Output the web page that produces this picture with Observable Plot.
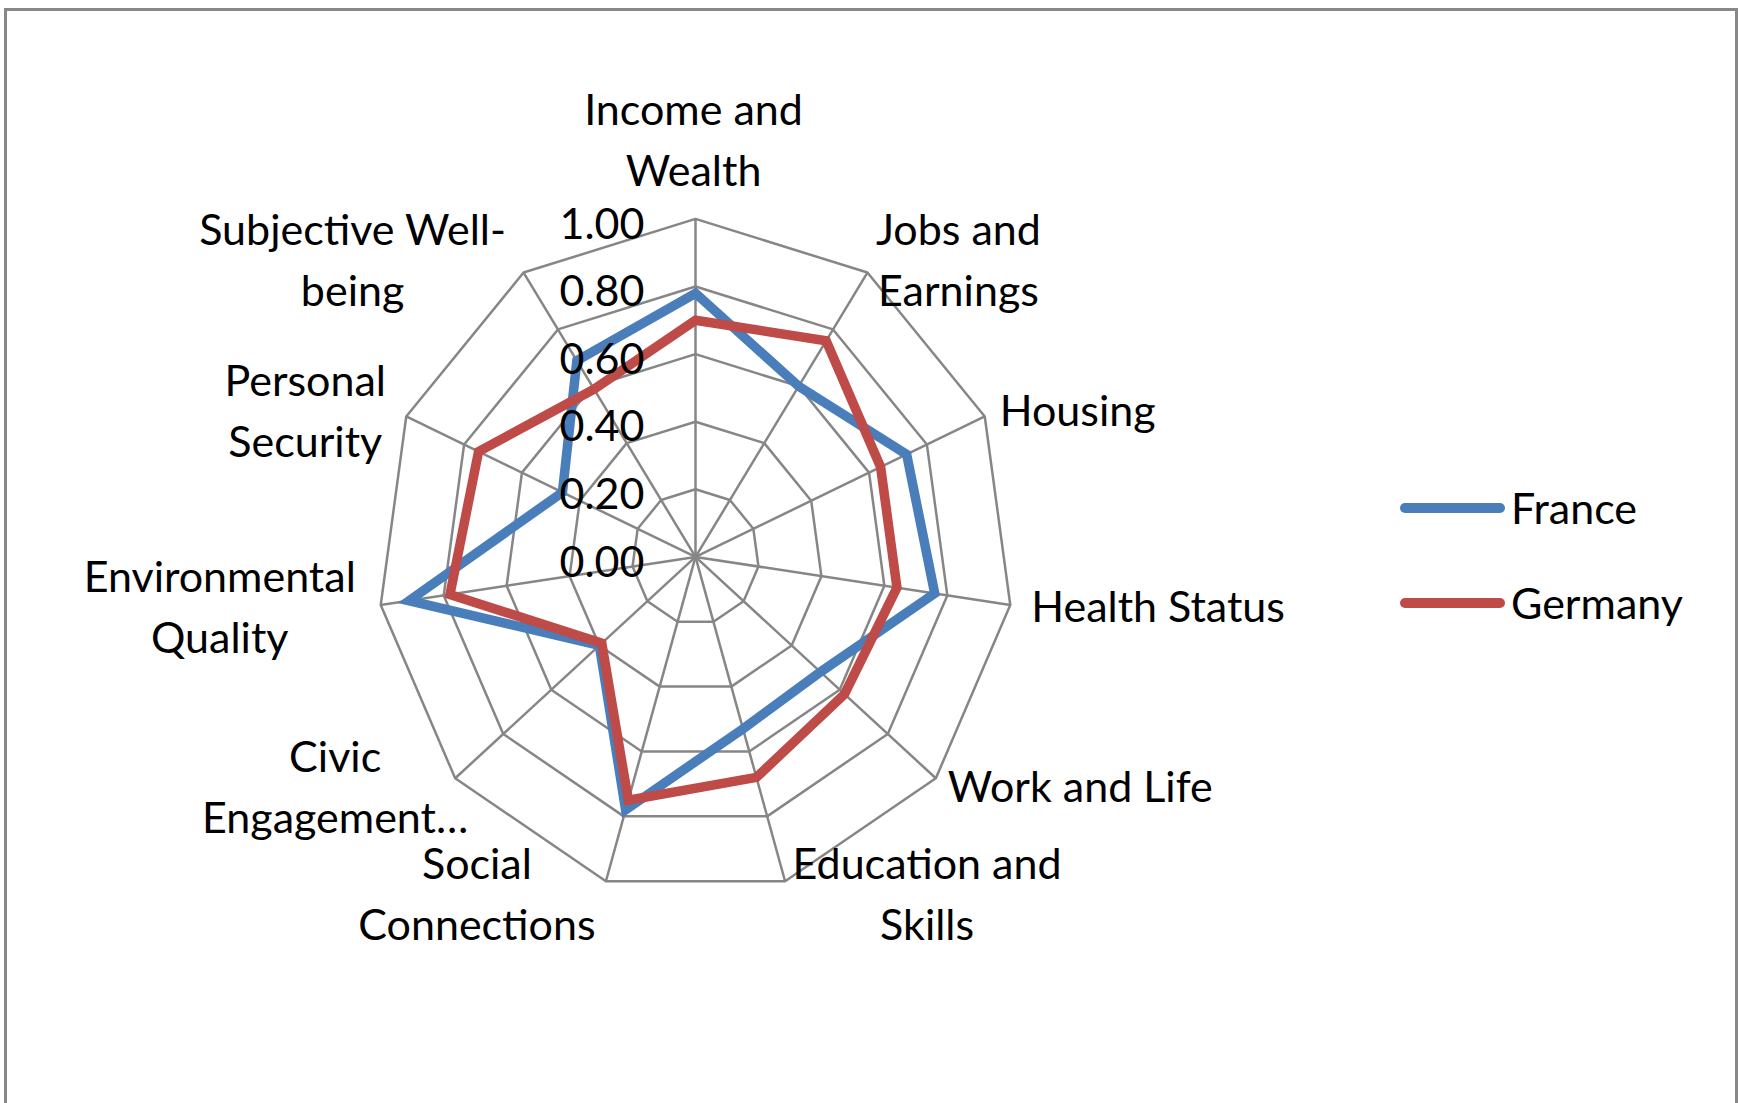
<!DOCTYPE html>
<html>
<head>
<meta charset="utf-8">
<script src="https://cdn.jsdelivr.net/npm/d3@7"></script>
<script src="https://cdn.jsdelivr.net/npm/@observablehq/plot@0.6"></script>
<style>
  html, body { margin: 0; padding: 0; background: #fff; }
  #wrap { position: relative; width: 1738px; height: 1103px; overflow: hidden; font-family: Lato, "Liberation Sans", sans-serif; }
  #frame { position: absolute; left: 4px; top: 8px; width: 1734px; height: 1300px; border: 3px solid #888; box-sizing: border-box; pointer-events: none; }
  #chart { position: absolute; left: 0; top: 0; }
  .sw { position: absolute; left: 1400px; width: 105px; height: 10px; border-radius: 5px; }
  .lt { position: absolute; left: 1511px; font-size: 43px; line-height: 43px; color: #000; white-space: nowrap; }
</style>
</head>
<body>
<div id="wrap">
  <div id="chart"></div>
  <div id="frame"></div>
  <div id="legend"></div>
</div>
<script>
// ---- data ----
const categories = [
  "Income and Wealth", "Jobs and Earnings", "Housing", "Health Status",
  "Work and Life", "Education and Skills", "Social Connections",
  "Civic Engagement…", "Environmental Quality", "Personal Security",
  "Subjective Well-being"
];
const labelLines = [
  ["Income and", "Wealth"], ["Jobs and", "Earnings"], ["Housing"], ["Health Status"],
  ["Work and Life"], ["Education and", "Skills"], ["Social", "Connections"],
  ["Civic", "Engagement…"], ["Environmental", "Quality"], ["Personal", "Security"],
  ["Subjective Well-", "being"]
];
const france  = [0.78, 0.60, 0.73, 0.76, 0.52, 0.53, 0.78, 0.40, 0.91, 0.46, 0.69];
const germany = [0.70, 0.76, 0.64, 0.64, 0.62, 0.68, 0.75, 0.39, 0.78, 0.75, 0.59];
const seriesNames = ["France", "Germany"];
const seriesColors = ["#4A7EBB", "#BE4B48"];
const ticks = [0, 0.2, 0.4, 0.6, 0.8, 1.0];
const tickLabels = ["0.00", "0.20", "0.40", "0.60", "0.80", "1.00"];

// ---- layout (label offsets from the 1.00 vertex of each axis, px) ----
const labelLayout = [
  {anchor: "middle", dx: -2,   dy: -83},
  {anchor: "middle", dx: 91,   dy: -17},
  {anchor: "start",  dx: 15,   dy: -10},
  {anchor: "start",  dx: 21,   dy: -3},
  {anchor: "start",  dx: 12,   dy: 4},
  {anchor: "middle", dx: 142,  dy: 9},
  {anchor: "middle", dx: -129, dy: 9},
  {anchor: "middle", dx: -120, dy: 5},
  {anchor: "middle", dx: -161, dy: -2},
  {anchor: "middle", dx: -101, dy: -10},
  {anchor: "middle", dx: -171, dy: -17}
];

const N = categories.length;
const ang = i => 2 * Math.PI * i / N;
const px = (v, i) => v * Math.sin(ang(i));
const py = (v, i) => v * Math.cos(ang(i));

const ringData = ticks.filter(t => t > 0).flatMap(t =>
  categories.map((c, i) => ({t, x: px(t, i), y: py(t, i)})));
const spokeData = categories.map((c, i) => ({x1: 0, y1: 0, x2: px(1, i), y2: py(1, i)}));
const seriesData = [[seriesNames[0], france], [seriesNames[1], germany]].flatMap(([s, vals]) =>
  vals.map((v, i) => ({series: s, cat: categories[i], v, x: px(v, i), y: py(v, i)})));
const tickData = ticks.map((t, i) => ({t, label: tickLabels[i]}));

const grid = "#868686";
const FS = 43;

const marks = [
  Plot.line(ringData, {x: "x", y: "y", z: "t", curve: "linear-closed", stroke: grid, strokeWidth: 2.5}),
  Plot.link(spokeData, {x1: "x1", y1: "y1", x2: "x2", y2: "y2", stroke: grid, strokeWidth: 2.5}),
  Plot.line(seriesData, {x: "x", y: "y", z: "series", stroke: "series", curve: "linear-closed",
    strokeWidth: 9.5, strokeLinejoin: "miter", strokeMiterlimit: 10}),
  Plot.text(tickData, {x: () => 0, y: "t", text: "label", textAnchor: "end", lineAnchor: "middle",
    dx: -51, dy: 6, fontSize: FS, fill: "#000"}),
  ...categories.map((c, i) => Plot.text(
    [{x: px(1, i), y: py(1, i), text: labelLines[i].join("\n")}],
    {x: "x", y: "y", text: "text", textAnchor: labelLayout[i].anchor, lineAnchor: "middle",
     dx: labelLayout[i].dx, dy: labelLayout[i].dy, fontSize: FS, lineHeight: 1.42, fill: "#000"}))
];

const chart = Plot.plot({
  width: 1738,
  height: 1103,
  margin: 0,
  style: {fontFamily: 'Lato, "Liberation Sans", sans-serif', fontSize: FS + "px", background: "transparent"},
  x: {domain: [-1, 1], range: [377, 1013], axis: null},
  y: {domain: [-1, 1], range: [894.4, 218.4], axis: null},
  color: {domain: seriesNames, range: seriesColors},
  marks
});
document.getElementById("chart").appendChild(chart);

// legend
const legend = document.getElementById("legend");
const legendTops = [508, 603];
seriesNames.forEach((s, i) => {
  const sw = document.createElement("div");
  sw.className = "sw";
  sw.style.top = (legendTops[i] - 5) + "px";
  sw.style.background = seriesColors[i];
  legend.appendChild(sw);
  const t = document.createElement("div");
  t.className = "lt";
  t.style.top = (legendTops[i] - 22) + "px";
  t.textContent = s;
  legend.appendChild(t);
});
</script>
</body>
</html>
